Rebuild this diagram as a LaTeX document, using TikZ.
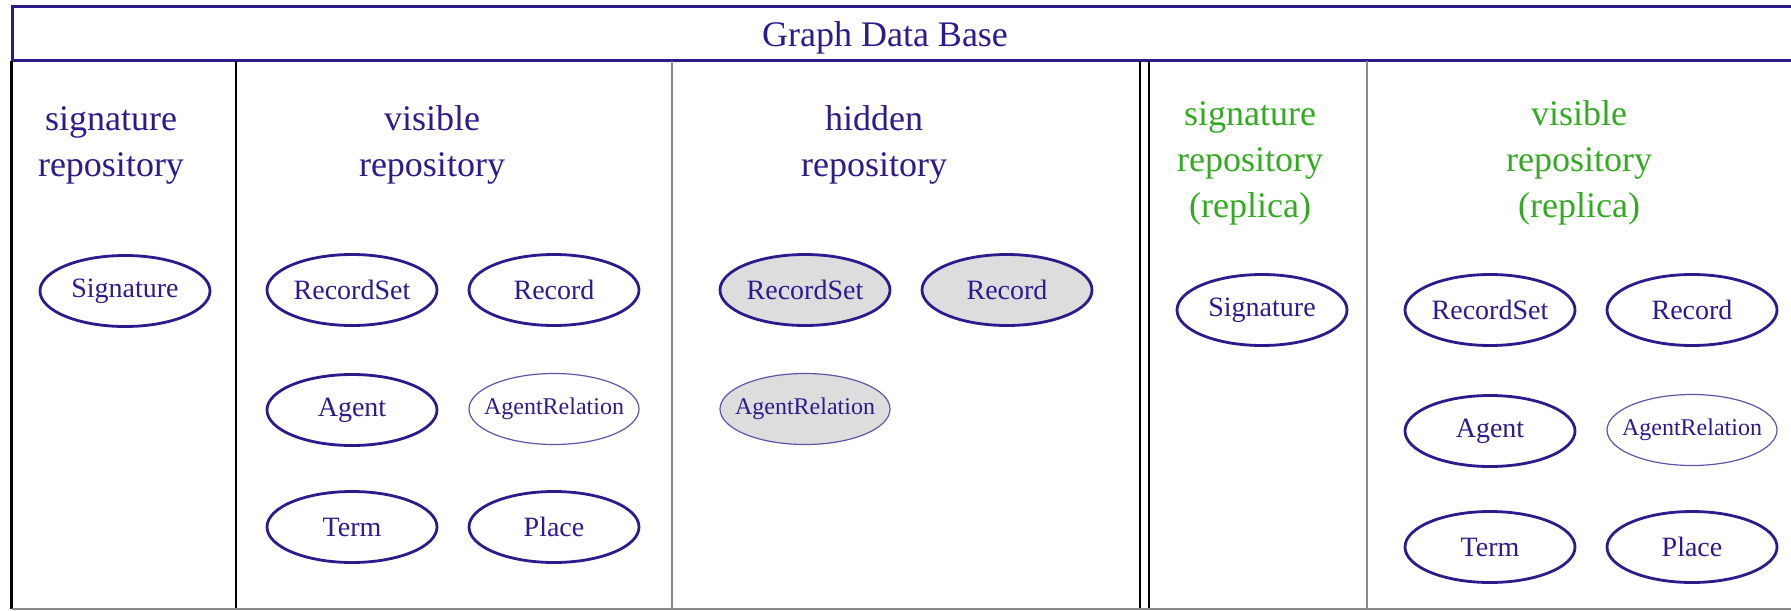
\documentclass[tikz,border=0pt]{standalone}
\usepackage{fontspec}
\setmainfont{Liberation Serif}
\usepackage{tikz}
\usetikzlibrary{shapes,positioning}
\definecolor{dbblue}{RGB}{43,27,140}
\definecolor{dbgreen}{RGB}{51,170,34}
\definecolor{dbgray}{RGB}{136,136,136}
\definecolor{dblightgray}{RGB}{221,221,221}
\tikzstyle{entity} = [ellipse, draw=dbblue, line width=1.4pt, minimum width=85pt, minimum height=35.5pt, inner sep=0pt, text=dbblue, font=\fontsize{14}{16}\selectfont]
\tikzstyle{relation} = [entity, draw=dbblue!75, line width=0.6pt, inner xsep=-5.5pt, font=\fontsize{12}{14}\selectfont]
\tikzstyle{hiddenentity} = [fill=dblightgray]
\tikzstyle{repo} = [align=center, inner sep=0pt, text=dbblue, font=\fontsize{18}{23}\selectfont]
\tikzstyle{replica} = [repo, text=dbgreen]
\tikzstyle{dbframe} = [line width=1.5pt, draw=dbblue]

\begin{document}
\begin{tikzpicture}[x=0.5pt, y=-0.5pt]
\useasboundingbox (0,0) rectangle (1791,610);
% Title bar
\draw[dbframe] (1791,7) -- (12.5,7) -- (12.5,61) -- (1791,61);
\node[font=\fontsize{18}{22}\selectfont, text=dbblue] (title) at (885,38) {Graph Data Base};

% Columns
\draw[line width=1.5pt] (11.5,61) -- (11.5,609);
\draw[line width=0.9pt] (236,61) -- (236,609);
\draw[line width=1pt, dbgray] (672,61) -- (672,609);
\draw[line width=1.2pt] (1140,61) -- (1140,609);
\draw[line width=1.2pt] (1149,61) -- (1149,609);
\draw[line width=1pt, dbgray] (1367,61) -- (1367,609);
\draw[line width=1pt, dbgray] (11.5,609) -- (1791,609);

% Repository headings
\node[repo] (sigrepo) at (111,145) {signature\\repository};
\node[repo] (visrepo) at (432,145) {visible\\repository};
\node[repo] (hidrepo) at (874,145) {hidden\\repository};
\node[replica] (sigreplica) at (1250,163) {signature\\repository\\(replica)};
\node[replica] (visreplica) at (1579,163) {visible\\repository\\(replica)};

% Signature repository
\node[entity] (sig) at (125,291) {Signature};

% Visible repository
\node[entity] (visrecset) at (352,290) {RecordSet};
\node[entity] (visrec) at (554,290) {Record};
\node[entity] (visagent) at (352,410) {Agent};
\node[relation] (visrel) at (554,409) {AgentRelation};
\node[entity] (visterm) at (352,527) {Term};
\node[entity] (visplace) at (554,527) {Place};

% Hidden repository
\node[entity, hiddenentity] (hidrecset) at (805,290) {RecordSet};
\node[entity, hiddenentity] (hidrec) at (1007,290) {Record};
\node[relation, hiddenentity] (hidrel) at (805,409) {AgentRelation};

% Replicas
\node[entity] (sigcopy) at (1262,310) {Signature};
\node[entity] (copyrecset) at (1490,310) {RecordSet};
\node[entity] (copyrec) at (1692,310) {Record};
\node[entity] (copyagent) at (1490,431) {Agent};
\node[relation] (copyrel) at (1692,430) {AgentRelation};
\node[entity] (copyterm) at (1490,547) {Term};
\node[entity] (copyplace) at (1692,547) {Place};
\end{tikzpicture}
\end{document}
